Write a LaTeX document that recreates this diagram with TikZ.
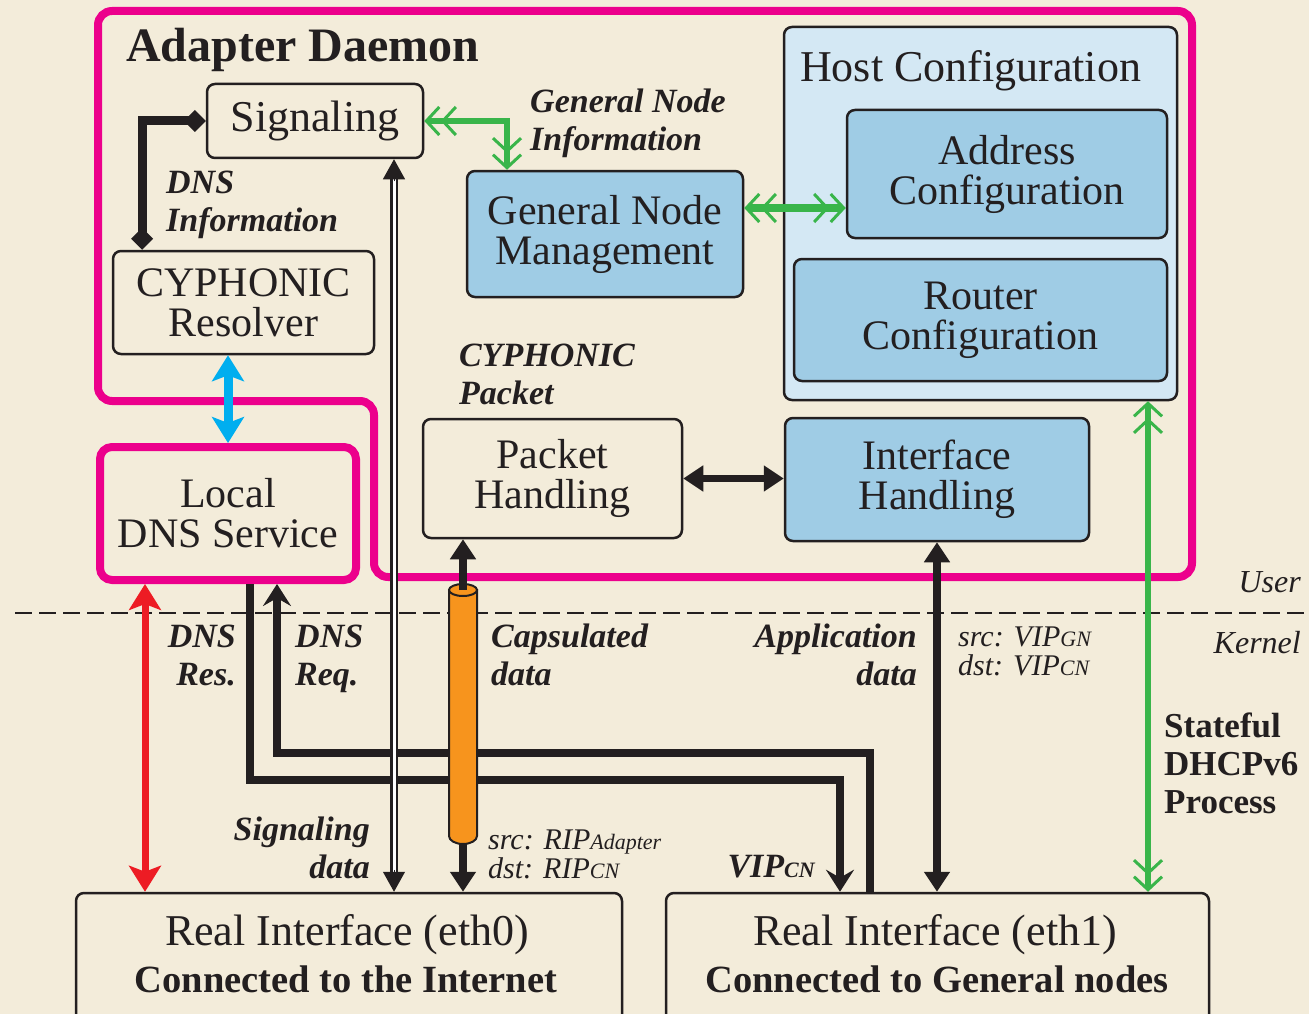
\documentclass[tikz,border=0pt]{standalone}
\usepackage{fontspec}
\setmainfont{Liberation Serif}
\usetikzlibrary{arrows.meta,calc}

\definecolor{paper}{HTML}{F3ECDA}
\definecolor{daemon}{HTML}{EC008C}
\definecolor{boxblue}{HTML}{9FCCE5}
\definecolor{hostblue}{HTML}{D4E8F4}
\definecolor{ink}{HTML}{231F20}
\definecolor{leaf}{HTML}{39B54A}
\definecolor{sky}{HTML}{00AEEF}
\definecolor{alert}{HTML}{ED1C24}
\definecolor{tube}{HTML}{F7941D}

% smaller trailing tags such as CN, GN, Adapter
\newcommand\lowtag[1]{{\fontsize{22}{22}\selectfont #1}}
\newcommand\lowtagb[1]{{\fontsize{22}{22}\selectfont #1}}

\tikzset{
  box/.style={draw=ink, line width=2.5pt, rounded corners=8pt, align=center,
    inner sep=0pt, text=ink, font=\fontsize{42}{40}\selectfont},
  bluebox/.style={box, fill=boxblue},
  lab/.style={inner sep=0pt, text=ink, font=\fontsize{34}{38}\selectfont\bfseries\itshape},
  tagtext/.style={inner sep=0pt, text=ink, align=left, font=\fontsize{30}{29}\selectfont\itshape},
  Hd/.tip={Triangle[length=20pt,width=25pt]},
  Sk/.tip={Stealth[length=22pt,width=28pt,inset=8pt]},
  Bl/.tip={Stealth[length=26pt,width=32pt,inset=6pt]},
  Gc/.tip={Straight Barb[length=13pt,width=28pt,line width=3pt,sep=0pt]
           Straight Barb[length=13pt,width=28pt,line width=3pt]},
  Dm/.tip={Diamond[length=22pt,width=22pt]},
  heavy/.style={draw=ink, line width=8pt},
  greenflow/.style={draw=leaf, line width=6.5pt, {Gc}-{Gc}},
}

\begin{document}
\begin{tikzpicture}[x=1pt,y=-1pt]
\useasboundingbox (0,0) rectangle (1309,1014);
\fill[paper] (0,0) rectangle (1309,1014);

% adapter daemon outline
\draw[daemon, line width=8pt, rounded corners=14pt]
  (98,11) -- (1192,11) -- (1192,577) -- (374,577) -- (374,401) -- (98,401) -- cycle;
\node[anchor=base west, inner sep=0pt, text=ink, font=\fontsize{48}{48}\selectfont\bfseries]
  (title) at (126,62) {Adapter Daemon};

% user / kernel boundary
\draw[ink, line width=2pt, dash pattern=on 17pt off 7pt] (15,613) -- (1309,613);
\node[anchor=base east, inner sep=0pt, text=ink, font=\fontsize{32}{32}\selectfont\itshape]
  (luser) at (1301,592) {User};
\node[anchor=base east, inner sep=0pt, text=ink, font=\fontsize{32}{32}\selectfont\itshape]
  (lkern) at (1301,653) {Kernel};

% host configuration group
\node[box, fill=hostblue, minimum width=393pt, minimum height=373pt] (host) at (980.5,213.5) {};
\node[anchor=base west, inner sep=0pt, text=ink, font=\fontsize{44}{40}\selectfont]
  (hosttitle) at (800,82) {Host Configuration};
\node[bluebox, minimum width=320pt, minimum height=128pt] (addr) at (1007,174) {Address\\Configuration};
\node[bluebox, minimum width=373pt, minimum height=122pt] (rtr) at (980.5,320) {Router\\Configuration};

% daemon modules
\node[box, font=\fontsize{44}{40}\selectfont, minimum width=216pt, minimum height=74pt] (sig) at (315,121) {Signaling};
\node[box, minimum width=261pt, minimum height=103pt] (res) at (243.5,302.5) {CYPHONIC\\Resolver};
\node[box, draw=daemon, line width=8pt, rounded corners=12pt, minimum width=256pt,
  minimum height=133pt] (ldns) at (228,513.5) {Local\\DNS Service};
\node[bluebox, minimum width=276pt, minimum height=126pt] (gnm) at (605,234) {General Node\\Management};
\node[box, minimum width=259pt, minimum height=119pt] (pkt) at (552.5,478.5) {Packet\\Handling};
\node[bluebox, minimum width=304pt, minimum height=123pt] (ifh) at (937,479.5) {Interface\\Handling};

% real interfaces
\node[box, minimum width=546pt, minimum height=134pt] (eth0) at (349,960) {};
\node[box, minimum width=543pt, minimum height=134pt] (eth1) at (937.5,960) {};
\node[anchor=base, inner sep=0pt, text=ink, font=\fontsize{44}{44}\selectfont]
  (eth0a) at (347,945) {Real Interface (eth0)};
\node[anchor=base, inner sep=0pt, text=ink, font=\fontsize{38.5}{38.5}\selectfont\bfseries]
  (eth0b) at (346,992) {Connected to the Internet};
\node[anchor=base, inner sep=0pt, text=ink, font=\fontsize{44}{44}\selectfont]
  (eth1a) at (935,945) {Real Interface (eth1)};
\node[anchor=base, inner sep=0pt, text=ink, font=\fontsize{38.5}{38.5}\selectfont\bfseries]
  (eth1b) at (937,992) {Connected to General nodes};

% routing columns and rows
\coordinate (xinfo) at (142,0);
\coordinate (xgn) at (507,0);
\coordinate (ygn) at (0,208);
\coordinate (xred) at (145,0);
\coordinate (xres) at (250,0);
\coordinate (xreq) at (277,0);
\coordinate (yres) at (0,780);
\coordinate (yreq) at (0,753);
\coordinate (xvip) at (840,0);
\coordinate (xreqend) at (870,0);
\coordinate (xsig) at (394,0);
\coordinate (xdhcp) at (1148,0);
\coordinate (cyltop) at (463,590);
\coordinate (cylbot) at (463,843);

% DNS information between signaling and resolver
\draw[ink, line width=9pt, {Dm}-{Dm}] (sig.west) -| (res.north -| xinfo);

% general node information flows
\draw[greenflow] (sig.east) -| (gnm.north -| xgn);
\draw[greenflow, line width=8pt] (gnm.east |- ygn) -- (addr.west |- ygn);
\draw[greenflow] (host.south -| xdhcp) -- (eth1.north -| xdhcp);

% resolver <-> local DNS, DNS traffic to eth0
\draw[sky, line width=9pt, {Bl}-{Bl}] (res.south -| ldns.north) -- (ldns.north);
\draw[alert, line width=7pt, {Bl}-{Bl}] (ldns.south -| xred) -- (eth0.north -| xred);

% DNS response / request via eth1
\draw[heavy, -{Sk}] (ldns.south -| xres) |- (xvip |- yres) -- (eth1.north -| xvip);
\draw[heavy, {Sk}-] (ldns.south -| xreq) |- (xreqend |- yreq) -- (eth1.north -| xreqend);

% signaling data (double line)
\draw[ink, line width=2.2pt, double=white, double distance=3pt, shorten <=18pt, shorten >=18pt]
  (sig.south -| xsig) -- (eth0.north -| xsig);
\draw[ink, line width=1pt, -{Triangle[length=20pt,width=22pt]}]
  ($(sig.south -| xsig)+(0,22)$) -- (sig.south -| xsig);
\draw[ink, line width=1pt, -{Triangle[length=20pt,width=22pt]}]
  ($(eth0.north -| xsig)+(0,-22)$) -- (eth0.north -| xsig);

% capsulated data tunnel
\filldraw[fill=tube, draw=ink, line width=2pt]
  (449,590) -- (449,836) arc[start angle=180, end angle=0, x radius=14, y radius=8]
  -- (477,590) -- cycle;
\filldraw[fill=tube, draw=ink, line width=2pt] (cyltop) ellipse [x radius=14, y radius=6];
\draw[heavy, -{Hd}] (cyltop) -- (pkt.south -| cyltop);
\draw[heavy, -{Hd}] (cylbot) -- (eth0.north -| cylbot);

% application data and packet/interface exchange
\draw[heavy, {Hd}-{Hd}] (ifh.south) -- (eth1.north -| ifh.south);
\draw[heavy, line width=7pt, {Hd}-{Hd}] (pkt.east) -- (ifh.west |- pkt.east);

% flow labels
\node[lab, anchor=north west, align=left] (lgni) at (530,89) {General Node\\Information};
\node[lab, anchor=north west, align=left] (ldnsi) at (166,171) {DNS\\Information};
\node[lab, anchor=north west, align=left] (lcyp) at (459,344) {CYPHONIC\\Packet};
\node[lab, anchor=north east, align=right] (lres) at (236,625) {DNS\\Res.};
\node[lab, anchor=north west, align=left] (lreq) at (295,625) {DNS\\Req.};
\node[lab, anchor=north west, align=left] (lcap) at (491,624) {Capsulated\\data};
\node[lab, anchor=north east, align=right] (lapp) at (917,624) {Application\\data};
\node[lab, anchor=north east, align=right] (lsigd) at (370,817) {Signaling\\data};
\node[lab, anchor=base east] (lvip) at (815,877) {VIP\lowtagb{CN}};
\node[tagtext, anchor=north west] (lvipgn) at (958,627) {src: VIP\lowtag{GN}\\dst: VIP\lowtag{CN}};
\node[tagtext, anchor=north west] (lrip) at (488,830) {src: RIP\lowtag{Adapter}\\dst: RIP\lowtag{CN}};
\node[anchor=north west, align=left, inner sep=0pt, text=ink, font=\fontsize{35}{38}\selectfont\bfseries]
  (ldhcp) at (1164,713) {Stateful\\DHCPv6\\Process};
\end{tikzpicture}
\end{document}
